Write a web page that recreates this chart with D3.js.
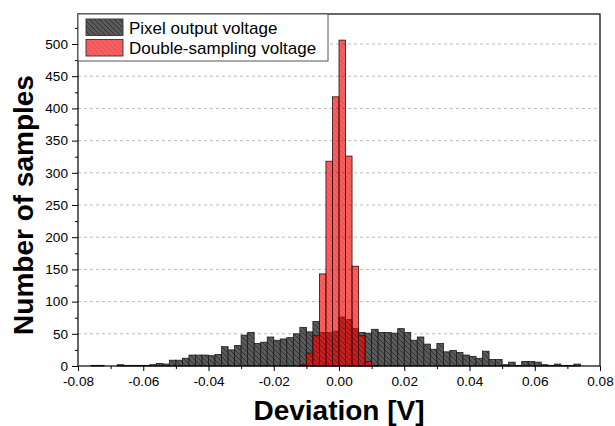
<!DOCTYPE html>
<html>
<head>
<meta charset="utf-8">
<script src="https://cdn.jsdelivr.net/npm/d3@7"></script>
<style>
  body { margin: 0; background: #fff; }
  svg { display: block; font-family: "Liberation Sans", Arial, sans-serif; }
</style>
</head>
<body>
<div id="chart"></div>
<script>
var w = 615
var h = 426
var margin = {top: 14, right: 15, bottom: 60, left: 78}

// histogram bins (left edge, width 0.002 V)
var binWidth = 0.002
var pixelBinStart = [
  -0.078, -0.076, -0.074, -0.072, -0.070, -0.068, -0.066, -0.064, -0.062, -0.060,
  -0.058, -0.056, -0.054, -0.052, -0.050, -0.048, -0.046, -0.044, -0.042, -0.040,
  -0.038, -0.036, -0.034, -0.032, -0.030, -0.028, -0.026, -0.024, -0.022, -0.020,
  -0.018, -0.016, -0.014, -0.012, -0.010, -0.008, -0.006, -0.004, -0.002, 0.000,
  0.002, 0.004, 0.006, 0.008, 0.010, 0.012, 0.014, 0.016, 0.018, 0.020,
  0.022, 0.024, 0.026, 0.028, 0.030, 0.032, 0.034, 0.036, 0.038, 0.040,
  0.042, 0.044, 0.046, 0.048, 0.050, 0.052, 0.054, 0.056, 0.058, 0.060,
  0.062, 0.064, 0.066, 0.068, 0.070, 0.072
]
var pixelCounts = [
  0, 1, 1, 0, 0, 2, 1, 1, 1, 1,
  2, 4, 3, 9, 9, 12, 17, 17, 17, 16,
  18, 30, 25, 32, 48, 52, 35, 37, 45, 40,
  42, 44, 50, 60, 53, 69, 52, 52, 54, 76,
  72, 58, 52, 51, 57, 52, 52, 51, 58, 52,
  40, 45, 34, 26, 35, 22, 24, 21, 17, 15,
  12, 23, 10, 10, 2, 6, 1, 7, 7, 6,
  2, 1, 3, 1, 1, 3
]
var dsBinStart = [-0.012, -0.010, -0.008, -0.006, -0.004, -0.002, 0.000, 0.002, 0.004, 0.006, 0.008, 0.010]
var dsCounts = [2, 20, 47, 143, 318, 418, 506, 326, 155, 47, 7, 1]

var xTicks = [-0.08, -0.06, -0.04, -0.02, 0.00, 0.02, 0.04, 0.06, 0.08]
var xTickLabels = ["-0.08", "-0.06", "-0.04", "-0.02", "0.00", "0.02", "0.04", "0.06", "0.08"]
var xMinorTicks = [-0.07, -0.05, -0.03, -0.01, 0.01, 0.03, 0.05, 0.07]
var yTicks = [0, 50, 100, 150, 200, 250, 300, 350, 400, 450, 500]
var yMinorTicks = [25, 75, 125, 175, 225, 275, 325, 375, 425, 475, 525]
var seriesNames = ["Pixel output voltage", "Double-sampling voltage"]

var font = "'Liberation Sans', Arial, sans-serif"
var svg = d3.select("#chart").append("svg").attr("width", w).attr("height", h)

var x = d3.scaleLinear().domain([-0.08, 0.08]).range([margin.left, w - margin.right])
var y = d3.scaleLinear().domain([0, 546.6]).range([h - margin.bottom, margin.top])

// hatch patterns
var defs = svg.append("defs")
function hatch(id, fill, line) {
  var p = defs.append("pattern").attr("id", id)
    .attr("patternUnits", "userSpaceOnUse").attr("width", 5).attr("height", 5)
  p.append("rect").attr("width", 5).attr("height", 5).attr("fill", fill)
  p.append("path").attr("d", "M0,0L5,5M-1,4L1,6M4,-1L6,1")
    .attr("stroke", line).attr("stroke-width", 0.9)
}
hatch("grayHatch", "#5a5a5a", "#2e2e2e")
hatch("redHatch", "#ff0000", "#a00000")

// grid
svg.append("g").selectAll("line")
  .data(yTicks.slice(1))
  .enter().append("line")
  .attr("x1", x(-0.08)).attr("x2", x(0.08))
  .attr("y1", function(d) { return y(d) }).attr("y2", function(d) { return y(d) })
  .attr("stroke", "#a8a8a8").attr("stroke-dasharray", "3,3").attr("stroke-width", 0.8)

// pixel output bars
svg.append("g").selectAll("rect")
  .data(pixelBinStart)
  .enter().append("rect")
  .attr("x", function(d) { return x(d) })
  .attr("width", function(d) { return x(d + binWidth) - x(d) })
  .attr("y", function(d, i) { return y(pixelCounts[i]) })
  .attr("height", function(d, i) { return y(0) - y(pixelCounts[i]) })
  .attr("fill", "url(#grayHatch)")
  .attr("stroke", "#1a1a1a").attr("stroke-width", 0.8)

// double sampling bars, semi transparent on top
svg.append("g").selectAll("rect")
  .data(dsBinStart)
  .enter().append("rect")
  .attr("x", function(d) { return x(d) })
  .attr("width", function(d) { return x(d + binWidth) - x(d) })
  .attr("y", function(d, i) { return y(dsCounts[i]) })
  .attr("height", function(d, i) { return y(0) - y(dsCounts[i]) })
  .attr("fill", "url(#redHatch)").attr("fill-opacity", 0.64)
  .attr("stroke", "#3a0a0a").attr("stroke-width", 0.8)

// axes
svg.append("g").attr("transform", "translate(0," + y(0) + ")")
  .call(d3.axisBottom(x).tickValues(xTicks).tickSize(5).tickSizeOuter(0).tickPadding(5)
    .tickFormat(function(d, i) { return xTickLabels[i] }))
svg.append("g").attr("transform", "translate(0," + y(0) + ")")
  .call(d3.axisBottom(x).tickValues(xMinorTicks).tickSize(3).tickSizeOuter(0).tickFormat(""))
svg.append("g").attr("transform", "translate(" + x(-0.08) + ",0)")
  .call(d3.axisLeft(y).tickValues(yTicks).tickSize(6).tickSizeOuter(0).tickPadding(4))
svg.append("g").attr("transform", "translate(" + x(-0.08) + ",0)")
  .call(d3.axisLeft(y).tickValues(yMinorTicks).tickSize(3).tickSizeOuter(0).tickFormat(""))

svg.selectAll(".domain").remove()
svg.selectAll(".tick line").attr("stroke", "#000").attr("stroke-width", 1)
svg.selectAll(".tick text").attr("fill", "#000").style("font-size", "13.6px")
  .style("font-family", font)

// frame
svg.append("rect")
  .attr("x", x(-0.08)).attr("y", y(546.6))
  .attr("width", x(0.08) - x(-0.08)).attr("height", y(0) - y(546.6))
  .attr("fill", "none").attr("stroke", "#000").attr("stroke-width", 1.2)

// legend
var lg = svg.append("g")
lg.append("rect").attr("x", x(-0.08)).attr("y", margin.top)
  .attr("width", 250).attr("height", 47)
  .attr("fill", "#fff").attr("stroke", "#555").attr("stroke-width", 1)
var legendFills = ["url(#grayHatch)", "url(#redHatch)"]
var legendOpacity = [1, 0.64]
seriesNames.forEach(function(name, i) {
  lg.append("rect").attr("x", 86).attr("y", 19 + i * 20.5)
    .attr("width", 37).attr("height", 16.5)
    .attr("fill", legendFills[i]).attr("fill-opacity", legendOpacity[i])
    .attr("stroke", "#333").attr("stroke-width", 0.9)
  lg.append("text").attr("x", 129).attr("y", 34 + i * 20)
    .style("font-family", font).style("font-size", "17px").text(name)
})

// axis titles
svg.append("text")
  .attr("x", x(0)).attr("y", 420)
  .attr("text-anchor", "middle")
  .style("font-family", font).style("font-size", "28px").style("font-weight", "bold")
  .text("Deviation [V]")
svg.append("text")
  .attr("transform", "translate(33,205) rotate(-90)")
  .attr("text-anchor", "middle")
  .style("font-family", font).style("font-size", "28px").style("font-weight", "bold")
  .text("Number of samples")
</script>
</body>
</html>
